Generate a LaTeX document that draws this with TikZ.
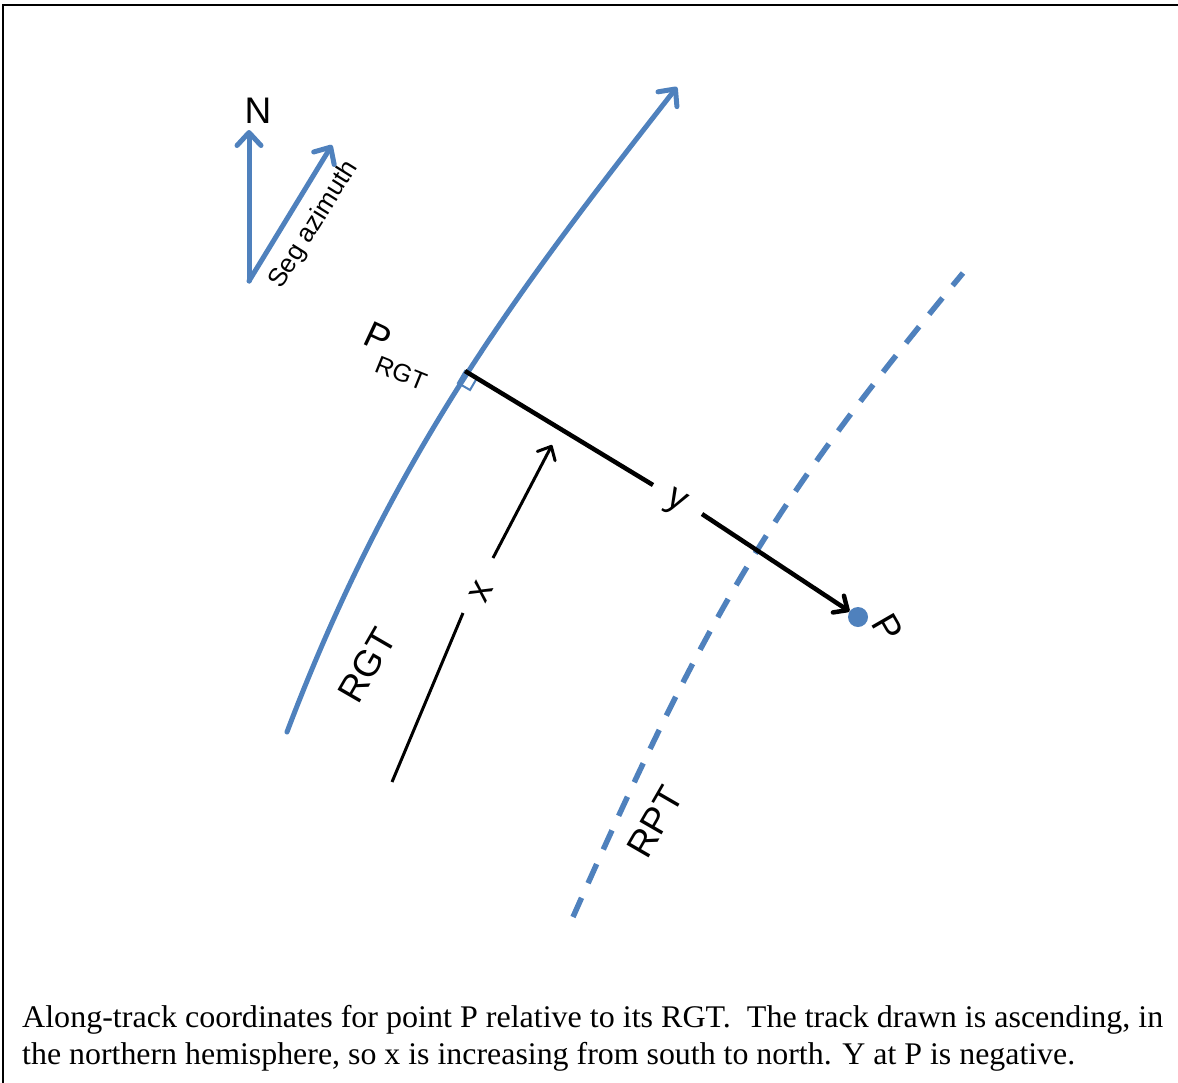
\documentclass[tikz,border=0pt]{standalone}
\usepackage{graphicx}
\usepackage{fontspec}
\setmainfont{Liberation Sans}
\newfontfamily\capfont{Liberation Serif}
\usetikzlibrary{arrows.meta}
\definecolor{tblue}{RGB}{79,129,189}
\begin{document}
\begin{tikzpicture}[x=1pt,y=-1pt,
  blueline/.style={draw=tblue, line width=5pt, line cap=round, line join=round},
  bluebarb/.style={-{Straight Barb[length=13pt,width=24pt,line cap=round,line join=round]}},
  blackbarb/.style={-{Straight Barb[length=11pt,width=20pt,line cap=round,line join=round]}},
  lbl/.style={font=\fontsize{37}{40}\selectfont, inner sep=0pt},
  smalllbl/.style={font=\fontsize{25}{28}\selectfont, inner sep=0pt},
  caption/.style={font=\capfont\fontsize{31.5}{36}\selectfont, inner sep=0pt, anchor=base west},
]
\useasboundingbox (0,0) rectangle (1178,1082);
% frame (top and left edges visible)
\coordinate (fTL) at (3,5);
\coordinate (fTR) at (1180,5);
\coordinate (fBL) at (3,1085);
\draw[line width=2pt] (fBL) -- (fTL) -- (fTR);

% compass
\coordinate (orig) at (249,281);
\coordinate (ntip) at (249,130);
\coordinate (segtip) at (332,145);
\draw[blueline, bluebarb] (orig) -- (ntip);
\draw[blueline, bluebarb] (orig) -- (segtip);
\node[lbl] (N) at (258,111) {N};
\node[font=\fontsize{26}{28}\selectfont, inner sep=0pt, rotate=58] (seg) at (314,225) {Seg azimuth};

% RGT track
\coordinate (rgtS) at (287,732);
\coordinate (rgtE) at (677,87);
\draw[blueline, bluebarb] (rgtS) .. controls (393,452) and (523,284) .. (rgtE);
\node[lbl, rotate=60] (rgtlbl) at (367,665) {RGT};

% RPT track (dashed)
\coordinate (rptS) at (573,917);
\coordinate (rptE) at (963,273);
\draw[draw=tblue, line width=5.5pt, dash pattern=on 21pt off 16pt] (rptS) .. controls (711,606) and (772,504) .. (rptE);
\node[lbl, rotate=60] (rptlbl) at (655,822) {RPT};

% P_RGT and right angle mark
\coordinate (prgt) at (465,371);
\coordinate (raB) at (477,378);
\coordinate (raC) at (470,390);
\coordinate (raD) at (458,383);
\draw[draw=tblue, line width=2pt] (prgt) -- (raB) -- (raC) -- (raD) -- cycle;
\node[lbl, rotate=-25] (Plbl) at (378,337) {P};
\node[smalllbl, rotate=-22] (RGTsub) at (401,373) {RGT};

% point P
\node[circle, fill=tblue, minimum size=20pt, inner sep=0pt] (pdot) at (858,617) {};
\node[lbl, rotate=-60] (Pname) at (888,628) {P};

% y offset arrow
\coordinate (ygapA) at (653,485);
\coordinate (ygapB) at (702,514);
\draw[line width=4.5pt] (prgt) -- (ygapA);
\draw[line width=4.5pt, blackbarb] (ygapB) -- (pdot);
\node[lbl, rotate=-30] (ylbl) at (675,503) {y};

% x along-track arrow
\coordinate (xS) at (392,782);
\coordinate (xgapA) at (463,613);
\coordinate (xgapB) at (493,558);
\coordinate (xtip) at (552,445);
\draw[line width=3pt] (xS) -- (xgapA);
\draw[line width=3pt, blackbarb] (xgapB) -- (xtip);
\node[lbl, rotate=62] (xlbl) at (481,592) {x};

% caption
\node[caption] (cap1) at (22,1027) {\resizebox{1141pt}{\height}{Along-track coordinates for point P relative to its RGT.\ \ The track drawn is ascending, in}};
\node[caption] (cap2) at (22,1064) {\resizebox{1053pt}{\height}{the northern hemisphere, so x is increasing from south to north. Y at P is negative.}};
\end{tikzpicture}
\end{document}
